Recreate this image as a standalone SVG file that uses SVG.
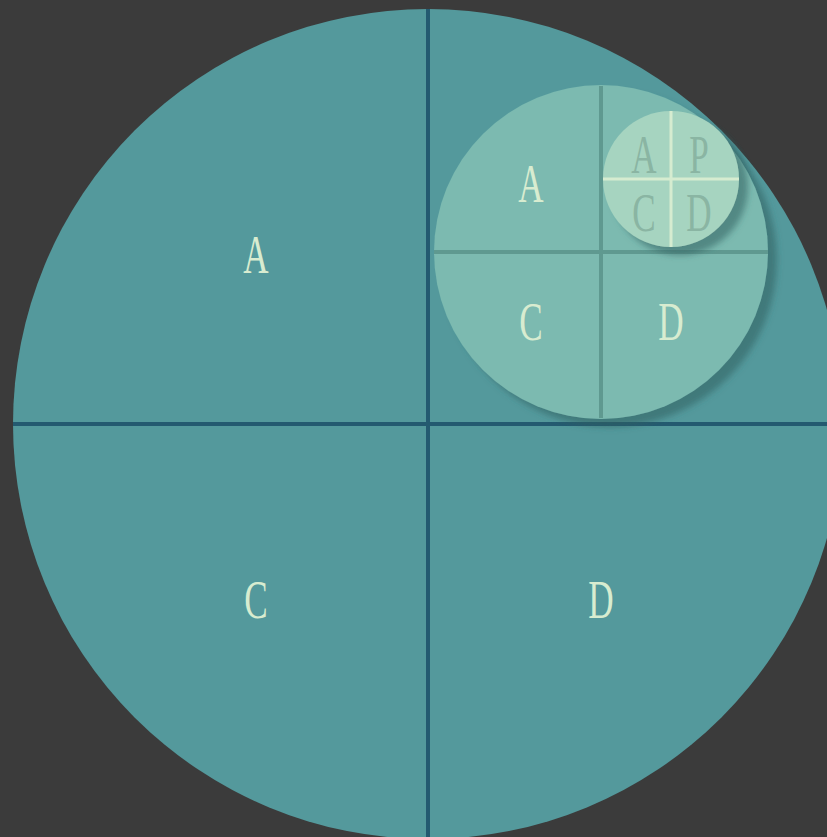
<svg xmlns="http://www.w3.org/2000/svg" width="827" height="837" viewBox="0 0 827 837">
<defs>
<filter id="sh" x="-20%" y="-20%" width="150%" height="150%">
<feDropShadow dx="9" dy="8" stdDeviation="3" flood-color="#2e5e5e" flood-opacity="0.55"/>
</filter>
<style>
.t{font-family:"Liberation Serif","DejaVu Serif",serif;font-size:54px;text-anchor:middle}
.tl{fill:#d8ecd0}
.ts{fill:#8ab5a3}
</style>
</defs>
<rect width="827" height="837" fill="#3b3b3b"/>
<g id="big">
<circle cx="428" cy="424" r="415" fill="#54999c"/>
<line x1="428" y1="9" x2="428" y2="837" stroke="#245a70" stroke-width="4"/>
<line x1="13" y1="424" x2="827" y2="424" stroke="#245a70" stroke-width="4"/>
<text class="t tl" transform="translate(256,273) scale(0.65,1)">A</text>
<text class="t tl" transform="translate(256,618) scale(0.65,1)">C</text>
<text class="t tl" transform="translate(601,618) scale(0.65,1)">D</text>
</g>
<g id="medium">
<circle cx="601" cy="252" r="167" fill="#7bbab0" filter="url(#sh)"/>
<line x1="601" y1="86" x2="601" y2="418" stroke="#5f9990" stroke-width="4"/>
<line x1="434" y1="252" x2="768" y2="252" stroke="#5f9990" stroke-width="4"/>
<text class="t tl" transform="translate(531,202) scale(0.65,1)">A</text>
<text class="t tl" transform="translate(531,340) scale(0.65,1)">C</text>
<text class="t tl" transform="translate(671,340) scale(0.65,1)">D</text>
</g>
<g id="small">
<circle cx="671" cy="179" r="68" fill="#a6d4c0" filter="url(#sh)"/>
<line x1="671" y1="111" x2="671" y2="247" stroke="#d6ecd0" stroke-width="3"/>
<line x1="603" y1="179" x2="739" y2="179" stroke="#d6ecd0" stroke-width="3"/>
<text class="t ts" transform="translate(644,173) scale(0.65,1)">A</text>
<text class="t ts" transform="translate(699,173) scale(0.65,1)">P</text>
<text class="t ts" transform="translate(644,231) scale(0.65,1)">C</text>
<text class="t ts" transform="translate(699,231) scale(0.65,1)">D</text>
</g>
</svg>
